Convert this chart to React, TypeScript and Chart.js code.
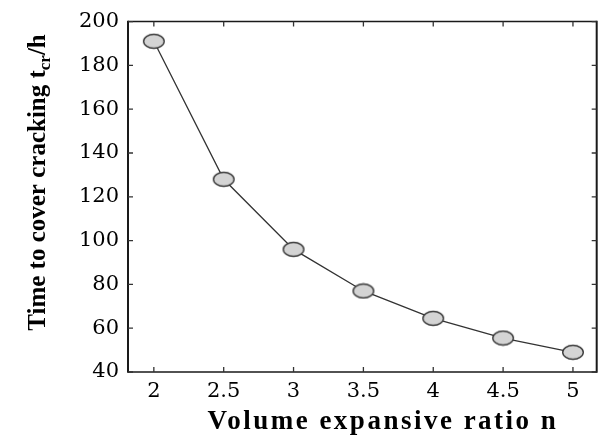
import React, { useEffect, useRef } from 'react';
import { Chart, registerables } from 'chart.js';
Chart.register(...registerables);

const ratioN = [2, 2.5, 3, 3.5, 4, 4.5, 5];
const crackTime = [191, 128, 96, 77, 64.5, 55.5, 49];
const xTickValues = [2, 2.5, 3, 3.5, 4, 4.5, 5];
const yTickValues = [40, 60, 80, 100, 120, 140, 160, 180, 200];
const xTitle = 'Volume expansive ratio n';
const yTitleMain = 'Time to cover cracking t';
const yTitleSub = 'cr';
const yTitleEnd = '/h';

export default function App() {
  const ref = useRef<HTMLCanvasElement>(null);

  useEffect(() => {
    document.body.style.margin = '0';
    const marker = document.createElement('canvas');
    marker.width = 24;
    marker.height = 17;
    const mc = marker.getContext('2d')!;
    mc.beginPath();
    mc.ellipse(12, 8.5, 10.3, 7, 0, 0, Math.PI * 2);
    mc.fillStyle = '#d4d4d4';
    mc.fill();
    mc.lineWidth = 1.4;
    mc.strokeStyle = '#3a3a3a';
    mc.stroke();

    const frame = {
      id: 'frame',
      afterDraw(chart: any) {
        const { ctx, chartArea: a, scales } = chart;
        const xs = scales.x;
        const ys = scales.y;
        ctx.save();
        ctx.strokeStyle = '#1a1a1a';
        ctx.lineWidth = 1.5;
        ctx.beginPath();
        ctx.moveTo(a.left, a.top);
        ctx.lineTo(a.right, a.top);
        ctx.moveTo(a.left, a.bottom);
        ctx.lineTo(a.right, a.bottom);
        ctx.stroke();
        ctx.lineWidth = 2;
        ctx.beginPath();
        ctx.moveTo(a.left, a.top - 0.75);
        ctx.lineTo(a.left, a.bottom + 0.75);
        ctx.moveTo(a.right, a.top - 0.75);
        ctx.lineTo(a.right, a.bottom + 0.75);
        ctx.stroke();
        ctx.lineWidth = 1.3;
        ctx.strokeStyle = '#333';
        const tl = 5;
        ctx.beginPath();
        xTickValues.forEach((v) => {
          const px = xs.getPixelForValue(v);
          ctx.moveTo(px, a.bottom);
          ctx.lineTo(px, a.bottom - tl);
          ctx.moveTo(px, a.top);
          ctx.lineTo(px, a.top + tl);
        });
        yTickValues.forEach((v) => {
          const py = ys.getPixelForValue(v);
          ctx.moveTo(a.left, py);
          ctx.lineTo(a.left + tl, py);
          ctx.moveTo(a.right, py);
          ctx.lineTo(a.right - tl, py);
        });
        ctx.stroke();

        ctx.fillStyle = '#000';
        ctx.font = 'bold 27px "Liberation Serif"';
        (ctx as any).letterSpacing = '2.5px';
        ctx.textAlign = 'center';
        ctx.textBaseline = 'alphabetic';
        ctx.fillText(xTitle, 383, 429);
        (ctx as any).letterSpacing = '0px';

        const mainFont = 'bold 25px "Liberation Serif"';
        const subFont = 'bold 17px "Liberation Serif"';
        ctx.font = mainFont;
        const w1 = ctx.measureText(yTitleMain).width;
        const w3 = ctx.measureText(yTitleEnd).width;
        ctx.font = subFont;
        const w2 = ctx.measureText(yTitleSub).width;
        const total = w1 + w2 + w3;
        const cy = 182.5;
        ctx.translate(45, cy + total / 2);
        ctx.rotate(-Math.PI / 2);
        ctx.textAlign = 'left';
        ctx.font = mainFont;
        ctx.fillText(yTitleMain, 0, 0);
        ctx.font = subFont;
        ctx.fillText(yTitleSub, w1, 5);
        ctx.font = mainFont;
        ctx.fillText(yTitleEnd, w1 + w2, 0);
        ctx.restore();
      },
    };

    const tickFont = { family: '"DejaVu Serif"', size: 21 };

    const chart = new Chart(ref.current!, {
      type: 'line',
      data: {
        datasets: [
          {
            data: ratioN.map((x, i) => ({ x, y: crackTime[i] })),
            borderColor: '#333',
            borderWidth: 1.3,
            pointStyle: marker as any,
            pointRadius: 10,
            tension: 0,
            fill: false,
          },
        ],
      },
      options: {
        responsive: false,
        animation: false,
        events: [],
        layout: { padding: { left: 0, top: 16, right: 6, bottom: 0 } },
        plugins: { legend: { display: false }, tooltip: { enabled: false } },
        scales: {
          x: {
            type: 'linear',
            min: 1.815,
            max: 5.17,
            grid: { display: false, drawTicks: false },
            border: { display: false },
            afterBuildTicks: (s: any) => {
              s.ticks = xTickValues.map((v) => ({ value: v }));
            },
            afterFit: (s: any) => {
              s.height = 64;
            },
            ticks: {
              autoSkip: false,
              maxRotation: 0,
              padding: 7,
              color: '#000',
              font: tickFont,
              callback: (v: any) => String(v),
            },
          },
          y: {
            type: 'linear',
            min: 40,
            max: 200,
            grid: { display: false, drawTicks: false },
            border: { display: false },
            afterBuildTicks: (s: any) => {
              s.ticks = yTickValues.map((v) => ({ value: v }));
            },
            afterFit: (s: any) => {
              s.width = 128;
            },
            ticks: {
              autoSkip: false,
              padding: 9,
              color: '#000',
              font: tickFont,
              callback: (v: any) => String(v),
            },
          },
        },
      },
      plugins: [frame],
    });
    return () => chart.destroy();
  }, []);

  return (
    <div style={{ width: 608, height: 436, background: '#fff' }}>
      <canvas ref={ref} width={608} height={436} style={{ display: 'block', width: 608, height: 436 }} />
    </div>
  );
}
